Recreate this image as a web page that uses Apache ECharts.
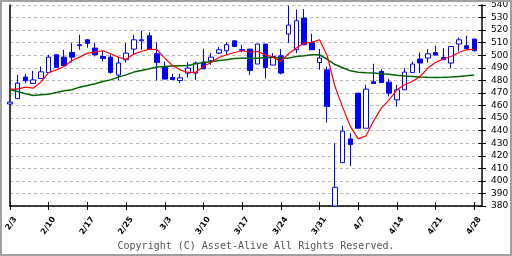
<!DOCTYPE html>
<html><head><meta charset="utf-8">
<script src="https://cdn.jsdelivr.net/npm/echarts/dist/echarts.min.js"></script>
<style>html,body{margin:0;padding:0;background:#fff}#c{width:512px;height:256px}</style>
</head><body><div id="c"></div>
<script>
const categories = ['2/3','2/4','2/5','2/6','2/7','2/10','2/11','2/12','2/13','2/14','2/17','2/18','2/19','2/20','2/21','2/24','2/25','2/26','2/27','2/28',
'3/3','3/4','3/5','3/6','3/7','3/10','3/11','3/12','3/13','3/14','3/17','3/18','3/19','3/20','3/21','3/24','3/25','3/26','3/27','3/28','3/31',
'4/1','4/2','4/3','4/4','4/7','4/8','4/9','4/10','4/11','4/14','4/15','4/16','4/17','4/18','4/21','4/22','4/23','4/24','4/25','4/28',''];
const tickLabels = ['2/3','2/10','2/17','2/25','3/3','3/10','3/17','3/24','3/31','4/7','4/14','4/21','4/28'];
const openV = [461.2,465.5,482.6,477.5,481.5,486.3,500.4,498.5,502.2,507.6,512.3,505.7,499.0,498.5,484.2,496.4,504.9,511.5,515.5,501.2,
490.3,482.3,479.9,485.8,485.8,494.6,495.6,501.7,503.6,511.5,504.5,504.9,493.0,508.9,492.2,499.6,516.9,504.4,529.6,510.2,
494.2,488.4,380.0,414.5,433.4,469.8,441.9,478.9,487.1,478.6,464.5,472.5,486.3,497.0,497.8,502.2,498.2,493.8,508.9,507.6,512.9];
const closeV = [462.7,477.8,479.7,480.4,486.8,498.5,490.3,491.8,498.5,508.4,509.4,500.4,497.4,486.3,493.8,501.7,512.3,512.3,504.9,494.2,
481.0,480.7,482.0,489.8,493.8,489.2,498.5,504.4,508.4,507.0,504.0,487.9,508.9,490.3,499.0,485.8,524.0,527.5,508.4,504.4,
497.8,459.2,394.9,439.6,428.9,441.9,473.0,477.5,478.3,469.8,472.5,486.6,493.0,493.8,501.2,500.1,496.4,507.0,512.3,505.2,503.6];
const lowV = [461.2,465.5,477.8,477.5,481.5,486.3,490.3,491.8,494.2,504.4,506.0,499.0,495.0,485.2,480.0,494.2,501.0,504.4,504.9,479.9,
481.0,480.7,477.8,482.3,480.4,489.2,492.4,500.9,500.4,507.0,502.5,484.2,493.0,481.5,492.2,484.7,509.7,501.7,508.4,504.4,
488.4,446.4,380.0,414.5,411.9,441.9,441.9,477.5,477.8,467.1,459.2,472.5,486.3,485.8,494.2,500.1,496.4,489.8,503.0,505.2,503.0];
const highV = [462.7,484.4,485.2,487.6,491.0,500.4,500.4,504.4,509.7,516.3,513.0,509.7,503.8,500.4,498.5,509.7,516.3,519.5,518.2,510.2,
495.0,485.2,485.2,494.6,495.0,505.2,501.7,506.5,510.2,511.5,508.4,504.9,508.9,508.9,501.7,504.9,539.4,536.3,536.8,517.1,
505.0,491.0,430.0,443.8,438.0,469.8,476.5,493.2,489.0,481.0,476.5,489.8,495.0,502.2,504.9,507.6,505.7,507.0,514.2,515.5,513.0];
const maShort = [473.0,473.0,474.6,473.8,478.6,486.3,488.4,491.0,495.8,498.5,501.7,502.5,503.6,501.2,498.5,496.7,500.9,503.0,504.9,504.4,
497.7,491.8,488.4,486.3,486.3,491.0,494.2,498.2,500.4,502.2,503.6,502.4,503.0,500.4,498.5,495.0,501.2,505.7,509.7,510.2,
512.3,499.6,475.1,458.5,443.2,433.4,435.8,447.8,457.9,464.5,472.5,476.5,479.1,483.1,489.8,494.2,497.0,499.0,502.2,504.4,504.6];
const maLong = [472.5,471.1,469.3,467.9,468.5,469.0,470.3,471.7,472.5,474.6,475.9,477.3,479.1,480.4,482.6,484.4,486.6,487.9,489.2,490.6,
491.1,491.4,491.6,491.8,493.2,494.2,494.8,495.8,496.4,497.4,497.7,497.7,497.7,498.2,498.2,497.6,497.7,499.0,499.6,500.4,
500.4,496.8,492.6,490.0,487.6,486.4,486.0,485.8,485.2,484.8,484.0,483.4,483.1,482.6,482.4,482.3,482.4,482.6,483.1,483.6,484.2];
const yMin = 380, yMax = 540, yStep = 10;

const candles = openV.map((o, i) => [o, closeV[i], lowV[i], highV[i]]);
const isTick = (i) => i % 5 === 0 && i / 5 < tickLabels.length;
const chart = echarts.init(document.getElementById('c'), null, {renderer: 'canvas'});
const gridBox = {left: 10, right: 30, top: 5, bottom: 50, containLabel: false, outerBoundsMode: 'none'};
chart.setOption({
  animation: false,
  backgroundColor: '#fff',
  grid: [Object.assign({}, gridBox), Object.assign({}, gridBox)],
  xAxis: [
    {gridIndex: 0, type: 'category', data: categories, boundaryGap: false,
     axisLine: {lineStyle: {color: '#000', width: 1.5}},
     axisTick: {interval: (i) => isTick(i), length: 4, lineStyle: {color: '#000', width: 1}},
     axisLabel: {interval: (i) => isTick(i), rotate: 55, margin: 8, lineHeight: 13,
       color: '#000', fontSize: 8, fontWeight: 'bold', fontFamily: 'DejaVu Sans', hideOverlap: false,
       formatter: (v) => { const i = categories.indexOf(v); return isTick(i) ? '\n' + tickLabels[i / 5] : ''; }},
     splitLine: {show: false}},
    {gridIndex: 1, type: 'category', data: categories, boundaryGap: false,
     axisLine: {show: false},
     axisTick: {inside: true, interval: (i) => isTick(i), length: 4, lineStyle: {color: '#000', width: 1}},
     axisLabel: {show: false}, splitLine: {show: false}}
  ],
  yAxis: [
    {gridIndex: 0, type: 'value', position: 'right', min: yMin, max: yMax, interval: yStep,
     axisLine: {show: true, lineStyle: {color: '#000', width: 1.5}},
     axisTick: {show: true, length: 4, lineStyle: {color: '#000'}},
     axisLabel: {color: '#000', fontSize: 9, fontFamily: 'DejaVu Sans', margin: 9},
     splitLine: {show: true, lineStyle: {color: '#b8b8b8', type: [3, 3], width: 1}}},
    {gridIndex: 0, type: 'value', position: 'left', min: yMin, max: yMax, interval: yStep,
     axisLine: {show: true, lineStyle: {color: '#000', width: 1.5}},
     axisTick: {show: false}, axisLabel: {show: false}, splitLine: {show: false}},
    {gridIndex: 1, type: 'value', position: 'right', min: yMin, max: yMax, interval: yStep,
     axisLine: {show: false},
     axisTick: {show: true, inside: true, length: 4, lineStyle: {color: '#000'}},
     axisLabel: {show: false}, splitLine: {show: false}}
  ],
  series: [
    {type: 'candlestick', xAxisIndex: 0, yAxisIndex: 0, data: candles, barWidth: 5, clip: false,
     itemStyle: {color: '#fff', color0: '#0000ff', borderColor: '#0000ff', borderColor0: '#0000ff', borderColorDoji: '#0000ff', borderWidth: 1}},
    {type: 'line', xAxisIndex: 0, yAxisIndex: 0, data: maLong, symbol: 'none', z: 3,
     lineStyle: {color: '#006400', width: 1.5}},
    {type: 'line', xAxisIndex: 0, yAxisIndex: 0, data: maShort, symbol: 'none', z: 4,
     lineStyle: {color: '#ff0000', width: 1.2}}
  ],
  graphic: [
    {type: 'rect', shape: {x: 1, y: 1, width: 510, height: 254}, style: {fill: 'none', stroke: '#a0a0a0', lineWidth: 2}, z: 100},
    {type: 'text', x: 256, y: 246, style: {text: 'Copyright (C) Asset-Alive All Rights Reserved.', font: '10px "DejaVu Sans Mono"', fill: '#555', textAlign: 'center', textVerticalAlign: 'middle'}}
  ]
});
</script></body></html>
